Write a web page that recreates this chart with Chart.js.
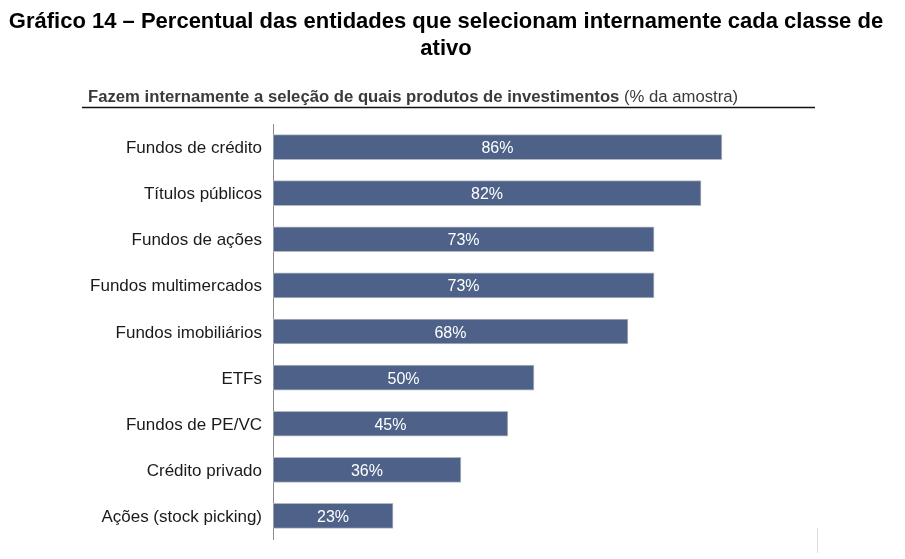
<!DOCTYPE html>
<html>
<head>
<meta charset="utf-8">
<script src="https://cdn.jsdelivr.net/npm/chart.js@4.4.1/dist/chart.umd.min.js"></script>
<style>
  html, body { margin: 0; padding: 0; background: #fff; }
  #wrap { position: relative; width: 905px; height: 559px; }
</style>
</head>
<body>
<div id="wrap"><canvas id="chart" width="905" height="559"></canvas></div>
<script>
const categories = [
  'Fundos de crédito',
  'Títulos públicos',
  'Fundos de ações',
  'Fundos multimercados',
  'Fundos imobiliários',
  'ETFs',
  'Fundos de PE/VC',
  'Crédito privado',
  'Ações (stock picking)'
];
const values = [86, 82, 73, 73, 68, 50, 45, 36, 23];
const titleLines = [
  'Gráfico 14 – Percentual das entidades que selecionam internamente cada classe de',
  'ativo'
];
const subtitleBold = 'Fazem internamente a seleção de quais produtos de investimentos';
const subtitleNormal = ' (% da amostra)';

const FONT = 'Arial, "Liberation Sans", sans-serif';

const headerPlugin = {
  id: 'header',
  afterDraw(chart) {
    const ctx = chart.ctx;
    ctx.save();
    ctx.fillStyle = '#000';
    ctx.font = 'bold 22px ' + FONT;
    ctx.textAlign = 'center';
    ctx.textBaseline = 'alphabetic';
    ctx.fillText(titleLines[0], 446, 28);
    ctx.fillText(titleLines[1], 446, 55);

    ctx.textAlign = 'left';
    ctx.fillStyle = '#3a3a3a';
    ctx.font = 'bold 16.7px ' + FONT;
    ctx.fillText(subtitleBold, 88, 102);
    const w = ctx.measureText(subtitleBold).width;
    ctx.font = '16.7px ' + FONT;
    ctx.fillText(subtitleNormal, 88 + w, 102);

    ctx.strokeStyle = '#111';
    ctx.lineWidth = 1.5;
    ctx.beginPath();
    ctx.moveTo(82, 107.5);
    ctx.lineTo(815, 107.5);
    ctx.stroke();

    ctx.strokeStyle = '#dcdcdc';
    ctx.lineWidth = 1;
    ctx.beginPath();
    ctx.moveTo(817.5, 528);
    ctx.lineTo(817.5, 553);
    ctx.stroke();
    ctx.restore();
  }
};

const barLabels = {
  id: 'barLabels',
  afterDatasetsDraw(chart) {
    const ctx = chart.ctx;
    const meta = chart.getDatasetMeta(0);
    const yScale = chart.scales.y;
    ctx.save();
    ctx.textBaseline = 'alphabetic';
    meta.data.forEach(function (bar, i) {
      ctx.font = '16px ' + FONT;
      ctx.fillStyle = '#fff';
      ctx.textAlign = 'center';
      ctx.fillText(values[i] + '%', (bar.x + bar.base) / 2, bar.y + 6);

      ctx.fillStyle = '#1a1a1a';
      ctx.font = '17px ' + FONT;
      ctx.textAlign = 'right';
      ctx.fillText(categories[i], yScale.right - 11, bar.y + 6);
    });
    ctx.restore();
  }
};

new Chart(document.getElementById('chart'), {
  type: 'bar',
  data: {
    labels: categories,
    datasets: [{
      data: values,
      backgroundColor: '#4e6189',
      borderColor: '#b4b8c0',
      borderWidth: 1,
      borderSkipped: false,
      barThickness: 25
    }]
  },
  options: {
    indexAxis: 'y',
    responsive: false,
    animation: false,
    layout: { padding: { top: 124, bottom: 20, left: 0, right: 110 } },
    plugins: {
      legend: { display: false },
      tooltip: { enabled: false }
    },
    scales: {
      x: {
        display: false,
        min: 0,
        max: 100
      },
      y: {
        grid: { display: false, drawTicks: false },
        border: { display: true, color: '#8a8a8a', width: 1 },
        ticks: { display: false },
        afterFit(scale) { scale.width = 273; }
      }
    }
  },
  plugins: [headerPlugin, barLabels]
});
</script>
</body>
</html>
